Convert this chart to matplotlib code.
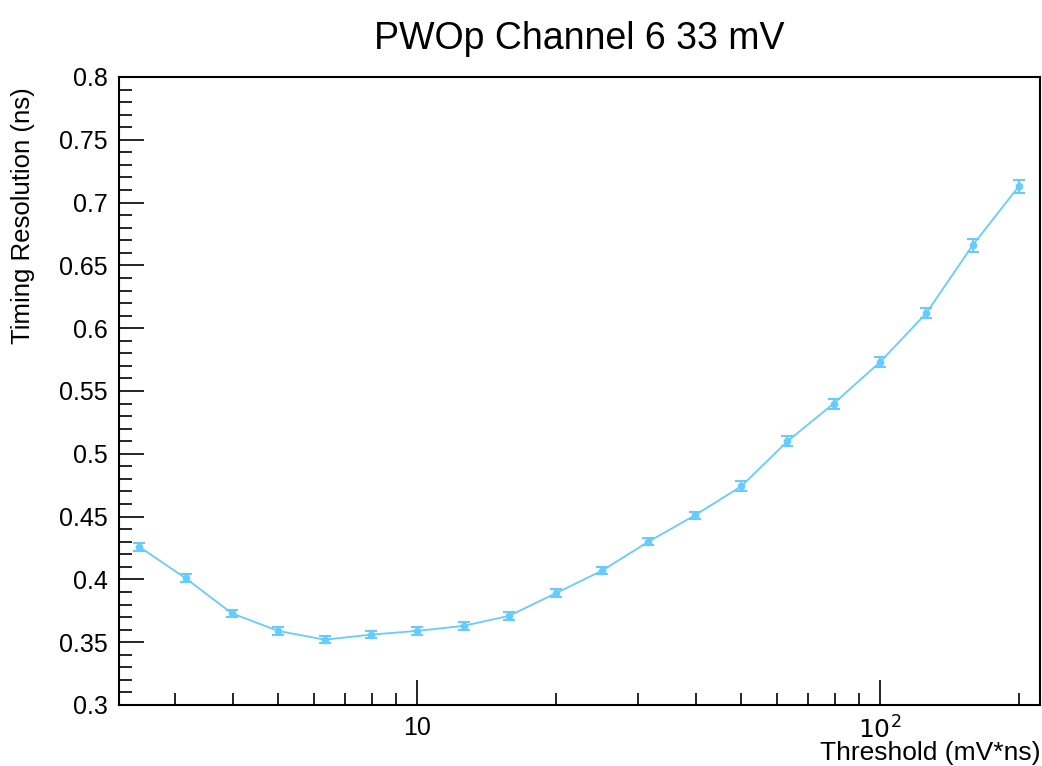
import numpy as np
import matplotlib
matplotlib.use("Agg")
import matplotlib.pyplot as plt
from matplotlib.ticker import FixedLocator, LogLocator, FuncFormatter, MultipleLocator

plt.rcParams['font.family'] = ['Liberation Sans', 'DejaVu Sans']

# threshold scan points and measured timing resolution
threshold = [2.51, 3.16, 3.98, 5.01, 6.31, 7.94, 10.0, 12.6, 15.8, 19.95,
             25.1, 31.6, 39.8, 50.1, 63.1, 79.4, 100.0, 125.9, 158.5, 199.5]
resolution = [0.426, 0.401, 0.373, 0.359, 0.352, 0.356, 0.359, 0.363, 0.371, 0.389,
              0.407, 0.430, 0.451, 0.474, 0.510, 0.540, 0.573, 0.612, 0.666, 0.713]
res_err = [0.003, 0.003, 0.003, 0.003, 0.003, 0.003, 0.003, 0.003, 0.003, 0.003,
           0.003, 0.003, 0.003, 0.004, 0.004, 0.004, 0.004, 0.004, 0.005, 0.005]

color = '#66ccff'

fig = plt.figure(figsize=(10.42, 7.66), dpi=100)
ax = fig.add_axes([119 / 1042, 1 - 705 / 766, (1040 - 119) / 1042, (705 - 77) / 766])

ax.errorbar(threshold, resolution, yerr=res_err, color=color, lw=1.3,
            marker='o', ms=4.5, capsize=4, capthick=1.5, elinewidth=1.5)

ax.set_xscale('log')
ax.set_xlim(2.27, 221.6)
ax.set_ylim(0.3, 0.8)

ax.xaxis.set_major_locator(FixedLocator([10, 100]))
ax.xaxis.set_minor_locator(LogLocator(base=10, subs=np.arange(2, 10)))
ax.xaxis.set_major_formatter(FuncFormatter(lambda v, p: '10' if v == 10 else r'$10^{2}$'))
ax.xaxis.set_minor_formatter(FuncFormatter(lambda v, p: ''))

ax.yaxis.set_major_locator(MultipleLocator(0.05))
ax.yaxis.set_minor_locator(MultipleLocator(0.01))
ax.yaxis.set_major_formatter(FuncFormatter(lambda v, p: ('%.2f' % v).rstrip('0')))

ax.tick_params(which='both', direction='in', top=False, right=False, width=1.2, labelsize=18)
ax.tick_params(which='major', length=18, pad=8)
ax.tick_params(which='minor', length=9)
for s in ax.spines.values():
    s.set_linewidth(1.5)

ax.set_title('PWOp Channel 6 33 mV', fontsize=27, pad=20)
ax.set_xlabel('Threshold (mV*ns)', fontsize=19, loc='right', labelpad=-2)
ax.set_ylabel('Timing Resolution (ns)', fontsize=18.5, loc='top')
ax.yaxis.set_label_coords(-0.091, 0.983)

fig.savefig('out.png', dpi=100)
